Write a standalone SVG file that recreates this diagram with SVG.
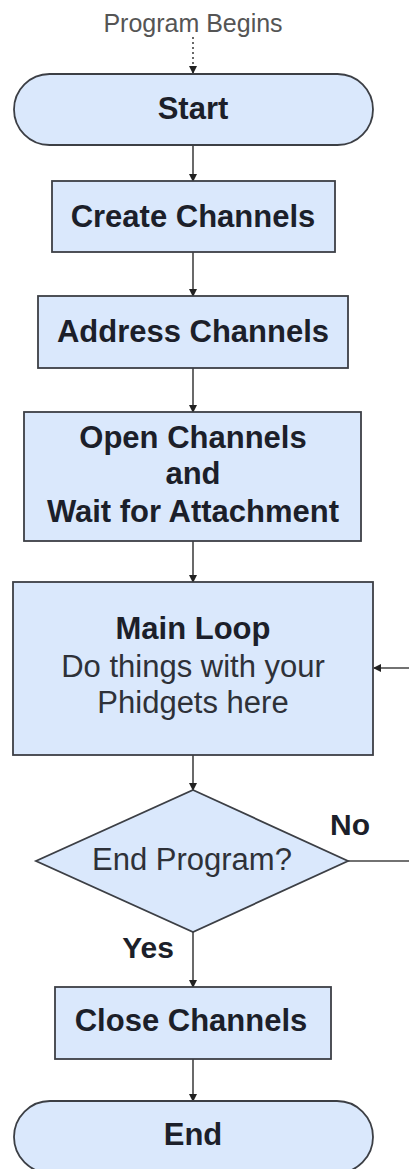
<svg xmlns="http://www.w3.org/2000/svg" width="409" height="1169" viewBox="0 0 409 1169">
<style>
.box{fill:#dae8fc;stroke:#3c3f45;stroke-width:1.8}
.t{font-family:"Liberation Sans",Arial,sans-serif;fill:#1c1f2a;text-anchor:middle}
.b{font-weight:bold;font-size:31px}
.r{font-size:31px;fill:#2e3138}
.c{stroke:#444;stroke-width:1.6;fill:none}
</style>
<defs>
<marker id="ah" markerWidth="8" markerHeight="8" refX="7" refY="4" orient="auto" markerUnits="userSpaceOnUse">
<path d="M0,0 L8,4 L0,8 Z" fill="#222"/>
</marker>
</defs>
<rect width="409" height="1169" fill="#ffffff"/>
<g id="connectors">
<line class="c" x1="193" y1="37" x2="193" y2="73" stroke-dasharray="2,3" marker-end="url(#ah)"/>
<line class="c" x1="193" y1="145" x2="193" y2="181" marker-end="url(#ah)"/>
<line class="c" x1="193" y1="252" x2="193" y2="296" marker-end="url(#ah)"/>
<line class="c" x1="193" y1="368" x2="193" y2="412" marker-end="url(#ah)"/>
<line class="c" x1="193" y1="541" x2="193" y2="582" marker-end="url(#ah)"/>
<line class="c" x1="193" y1="755" x2="193" y2="790" marker-end="url(#ah)"/>
<line class="c" x1="193" y1="932" x2="193" y2="987" marker-end="url(#ah)"/>
<line class="c" x1="193" y1="1059" x2="193" y2="1101" marker-end="url(#ah)"/>
<polyline class="c" points="348,861 410,861 410,668 374,668" marker-end="url(#ah)"/>
<text class="t b" x="350" y="835" font-size="30" style="font-size:30px">No</text>
<text class="t b" x="148" y="958" style="font-size:30px">Yes</text>
</g>
<g id="program-begins">
<text class="t" x="193" y="32" style="font-size:25px;fill:#555">Program Begins</text>
</g>
<g id="start">
<rect class="box" x="14" y="74" width="359" height="71" rx="35.5" ry="35.5"/>
<text class="t b" x="193" y="119">Start</text>
</g>
<g id="create">
<rect class="box" x="52" y="181" width="283" height="71"/>
<text class="t b" x="193" y="227">Create Channels</text>
</g>
<g id="address">
<rect class="box" x="38" y="296" width="310" height="72"/>
<text class="t b" x="193" y="342">Address Channels</text>
</g>
<g id="open">
<rect class="box" x="24" y="412" width="337" height="129"/>
<text class="t b" x="193" y="448">Open Channels</text>
<text class="t b" x="193" y="484">and</text>
<text class="t b" x="193" y="522">Wait for Attachment</text>
</g>
<g id="mainloop">
<rect class="box" x="13" y="582" width="360" height="173"/>
<text class="t b" x="193" y="639">Main Loop</text>
<text class="t r" x="193" y="677">Do things with your</text>
<text class="t r" x="193" y="713">Phidgets here</text>
</g>
<g id="decision">
<polygon class="box" points="193,790 348,861 193,932 36,861"/>
<text class="t r" x="192" y="870">End Program?</text>
</g>
<g id="close">
<rect class="box" x="55" y="987" width="276" height="72"/>
<text class="t b" x="191" y="1031">Close Channels</text>
</g>
<g id="end">
<rect class="box" x="14" y="1101" width="359" height="72" rx="36" ry="36"/>
<text class="t b" x="193" y="1145">End</text>
</g>
</svg>
